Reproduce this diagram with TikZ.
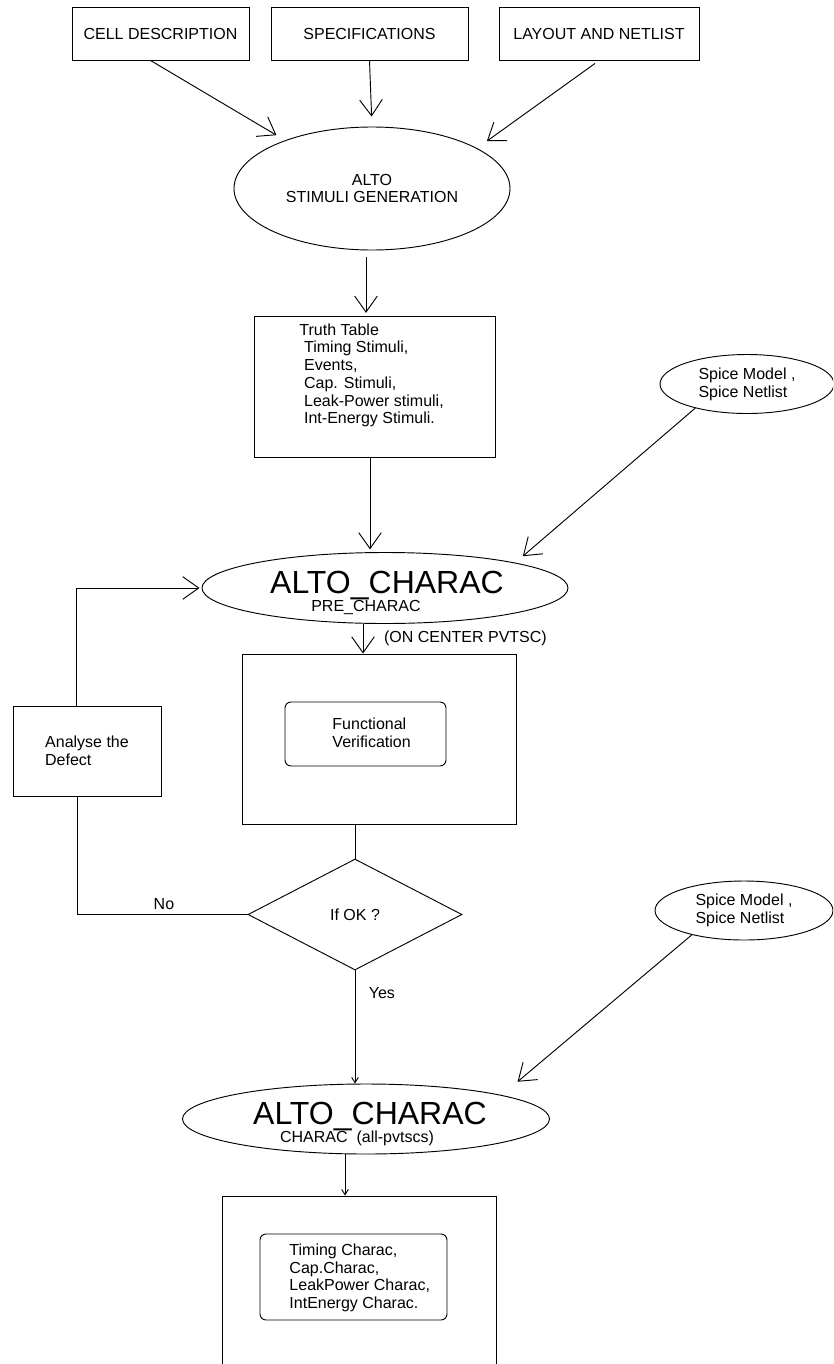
\documentclass[tikz,border=0pt]{standalone}
\usepackage{fontspec}
\setmainfont{Liberation Sans}
\usetikzlibrary{shapes.geometric}
\usetikzlibrary{arrows.meta}
\usetikzlibrary{calc}

\tikzset{
  box/.style={draw, line width=0.7pt, rectangle},
  bubble/.style={draw, line width=0.7pt, ellipse},
  softbox/.style={draw, line width=0.7pt, rounded corners=4.5pt},
  bigarrow/.style={line width=0.7pt, -{Straight Barb[length=12pt,width=17pt]}},
  smallarrow/.style={line width=0.7pt, -{Straight Barb[length=4pt,width=5pt]}},
  bigtext/.style={font=\fontsize{24}{24}\selectfont, anchor=base}
}

\begin{document}
\begin{tikzpicture}[x=0.75pt, y=-0.75pt, line width=0.7pt,
  every node/.style={font=\fontsize{12}{13.3}\selectfont, inner sep=0pt}]
\useasboundingbox (0,0) rectangle (833,1364);
\clip (0,0) rectangle (833,1364);

\coordinate (c1) at (160.5,33.5);
\coordinate (c2) at (369.5,33.5);
\coordinate (c3) at (599,33.5);
\coordinate (s1) at (372,188.5);
\coordinate (t1) at (374.5,386.5);
\coordinate (m1) at (747,384);
\coordinate (p1) at (385,588);
\coordinate (f1) at (379,739);
\coordinate (f2) at (365.5,734);
\coordinate (a1) at (87,751);
\coordinate (d1) at (355,914.5);
\coordinate (m2) at (744,910.5);
\coordinate (k1) at (366,1119);
\coordinate (b1) at (359,1308);
\coordinate (b2) at (353.5,1277);

% inputs
\node[box, minimum width=132.75pt, minimum height=39.75pt] (cell) at (c1) {CELL DESCRIPTION};
\node[box, minimum width=147.75pt, minimum height=39.75pt] (spec) at (c2) {SPECIFICATIONS};
\node[box, minimum width=150pt, minimum height=39.75pt] (layout) at (c3) {LAYOUT AND NETLIST};

\node[bubble, align=center, minimum width=207pt, minimum height=92.25pt] (stim) at (s1) {ALTO\\STIMULI GENERATION};

\node[box, minimum width=180.75pt, minimum height=105.75pt] (tt) at (t1) {};
\node[align=left, anchor=north west] (ttlist) at (299,323) {Truth Table\\
  \hspace*{3.5pt}Timing Stimuli,\\ \hspace*{3.5pt}Events,\\ \hspace*{3.5pt}Cap. Stimuli,\\
  \hspace*{3.5pt}Leak-Power stimuli,\\ \hspace*{3.5pt}Int-Energy Stimuli.};

\node[bubble, align=left, minimum width=130.5pt, minimum height=44.25pt] (spicetop) at (m1) {Spice Model ,\\Spice Netlist};

% pre characterisation
\node[bubble, minimum width=274.5pt, minimum height=53.25pt] (pre) at (p1) {};
\node[bigtext] (pretitle) at (387,593.5) {ALTO\_CHARAC};
\node[anchor=base] (presub) at (366,611.7) {PRE\_CHARAC};

\node[box, minimum width=205.5pt, minimum height=127.5pt] (fvbox) at (f1) {};
\node[softbox, minimum width=120.75pt, minimum height=48pt] (fvin) at (f2) {};
\node[align=left, anchor=north west] (fvtext) at (332,717.3) {Functional\\Verification};

\node[box, align=left, minimum width=111pt, minimum height=67.5pt] (analyse) at (a1) {Analyse the\\Defect};

\node[draw, diamond, line width=0.7pt, minimum width=160.5pt, minimum height=83.25pt] (ifok) at (d1) {If OK ?};

\node[bubble, align=left, minimum width=133.5pt, minimum height=44.25pt] (spicebot) at (m2) {Spice Model ,\\Spice Netlist};

% characterisation
\node[bubble, minimum width=275.25pt, minimum height=52.5pt] (charac) at (k1) {};
\node[bigtext] (charactitle) at (370,1124.5) {ALTO\_CHARAC};
\node[anchor=base] (characsub) at (357,1142.7) {CHARAC\ \ (all-pvtscs)};

\node[box, minimum width=205.5pt, minimum height=168pt] (charbox) at (b1) {};
\node[softbox, minimum width=140.25pt, minimum height=64.5pt] (charin) at (b2) {};
\node[align=left, anchor=north west] (chartext) at (289,1243.3) {Timing Charac,\\Cap.Charac,\\LeakPower Charac,\\IntEnergy Charac.};

\coordinate (stimout) at ($(stim.south)+(-6,0)$);
\coordinate (ttout) at ($(tt.south)+(-4.5,0)$);
\coordinate (preout) at ($(pre.south)+(-22,0)$);
\coordinate (loopup) at ($(analyse.north)+(-11,0)$);
\coordinate (loopdown) at ($(analyse.south)+(-10,0)$);
\coordinate (characout) at ($(charac.south)+(-21,0)$);

\draw[bigarrow, shorten >=7.5pt] ($(cell.south)+(-10,0)$) -- (stim.151);
\draw[bigarrow, shorten >=7.5pt] (spec.south) -- (stim.north);
\draw[bigarrow, shorten >=9pt] ($(layout.south)+(-4,3)$) -- (stim.21);
\draw[bigarrow, shorten <=5pt, shorten >=2pt] (stimout) -- (stimout |- tt.north);
\draw[bigarrow, shorten >=2pt] (ttout) -- (ttout |- pre.north);
\draw[bigarrow, shorten >=7.5pt] (spicetop.205) -- (pre.11);
\draw[bigarrow, shorten >=1.5pt] (loopup) |- (pre.west);
\draw[bigarrow] (preout) -- (preout |- fvbox.north) node[midway, right=15.5pt] (pvtlabel) {(ON CENTER PVTSC)};
\draw (ifok.north |- fvbox.south) -- (ifok.north);
\draw (ifok.west) -| (loopdown) node[pos=0.245, above=3pt] (nolabel) {No};
\draw[smallarrow] (ifok.south) -- (ifok.south |- charac.north) node[pos=0.2, right=10pt] (yeslabel) {Yes};
\draw[bigarrow, shorten >=15.5pt] (spicebot.205) -- (charac.10);
\draw[smallarrow] (characout) -- (characout |- charbox.north);
\end{tikzpicture}
\end{document}
